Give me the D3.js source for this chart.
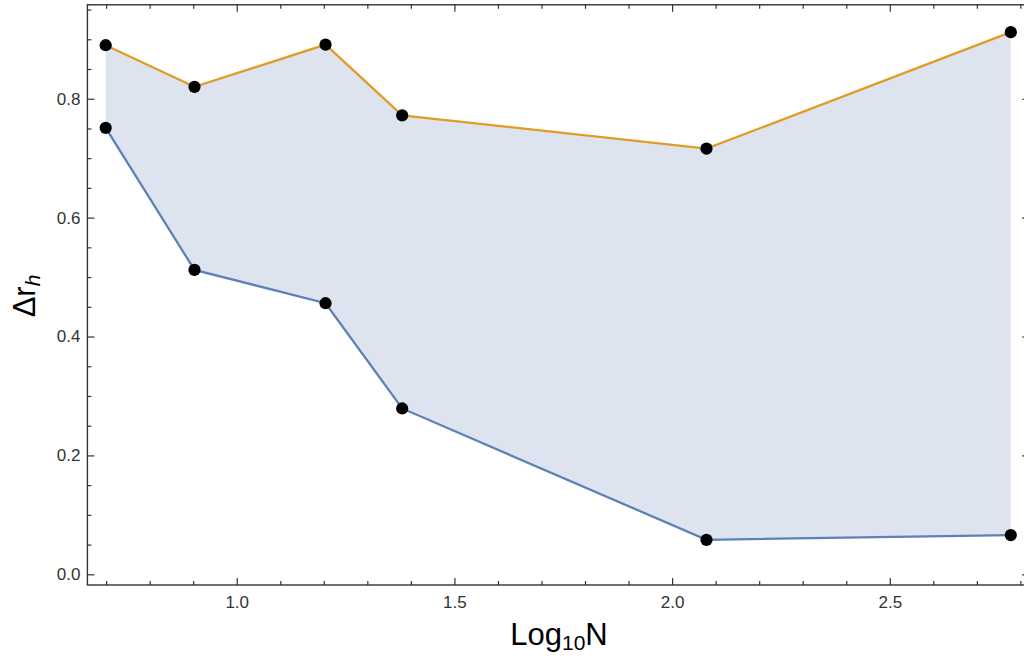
<!DOCTYPE html>
<html>
<head>
<meta charset="utf-8">
<script src="https://cdn.jsdelivr.net/npm/d3@7"></script>
<style>
  body { margin: 0; background: #fff; }
  svg text { font-family: "Liberation Sans", Arial, sans-serif; }
</style>
</head>
<body>
<script>
// data
var logN = [0.699, 0.903, 1.204, 1.380, 2.079, 2.778]
var upperVals = [0.890, 0.820, 0.891, 0.772, 0.716, 0.912]
var lowerVals = [0.751, 0.512, 0.456, 0.279, 0.058, 0.066]
var xMajor = [1.0, 1.5, 2.0, 2.5]
var yMajor = [0.0, 0.2, 0.4, 0.6, 0.8]

var width = 1024, height = 662

var svg = d3.select("body").append("svg")
  .attr("width", width)
  .attr("height", height)

var x = d3.scaleLinear().domain([0.657, 2.82]).range([87.4, 1029.1])
var y = d3.scaleLinear().domain([-0.018, 0.958]).range([585, 4.8])

var xMinor = d3.range(0.7, 2.85, 0.1).filter(function(v){
  return Math.abs(v*2 - Math.round(v*2)) > 0.01
})
var yMinor = d3.range(0.05, 0.96, 0.05).filter(function(v){
  return Math.abs(v*5 - Math.round(v*5)) > 0.01
})

var pts = logN.map(function(d,i){
  return {x: d, hi: upperVals[i], lo: lowerVals[i]}
})

svg.append("clipPath").attr("id","clip")
  .append("rect")
  .attr("x", x(0.657)).attr("y", y(0.958))
  .attr("width", x(2.82)-x(0.657)).attr("height", y(-0.018)-y(0.958))

var plot = svg.append("g").attr("clip-path","url(#clip)")

// filling between the two curves
plot.append("path")
  .datum(pts)
  .attr("fill", "#dde3ef")
  .attr("d", d3.area()
    .x(function(d){ return x(d.x) })
    .y0(function(d){ return y(d.lo) })
    .y1(function(d){ return y(d.hi) }))

plot.append("path")
  .datum(pts)
  .attr("fill", "none")
  .attr("stroke", "#5e81b5")
  .attr("stroke-width", 2.3)
  .attr("d", d3.line().x(function(d){ return x(d.x) }).y(function(d){ return y(d.lo) }))

plot.append("path")
  .datum(pts)
  .attr("fill", "none")
  .attr("stroke", "#e19c24")
  .attr("stroke-width", 2.3)
  .attr("d", d3.line().x(function(d){ return x(d.x) }).y(function(d){ return y(d.hi) }))

var dots = []
pts.forEach(function(d){
  dots.push({x: d.x, v: d.hi})
  dots.push({x: d.x, v: d.lo})
})
plot.selectAll("circle.pt")
  .data(dots)
  .enter()
  .append("circle")
  .attr("class","pt")
  .attr("cx", function(d){ return x(d.x) })
  .attr("cy", function(d){ return y(d.v) })
  .attr("r", 6.1)
  .attr("fill", "#000")

// frame axes, ticks pointing inward
var x0 = x(0.657), x1 = x(2.82), y0 = y(-0.018), y1 = y(0.958)

var styleAxis = function(g){
  g.attr("font-size", 17)
  g.select(".domain").remove()
  g.selectAll(".tick line").attr("stroke", "#333").attr("stroke-width", 1.2)
  g.selectAll(".tick text").attr("fill", "#333").style("font-size", "17px")
}

svg.append("g").attr("transform","translate(0,"+y0+")")
  .call(d3.axisBottom(x).tickValues(xMajor).tickSizeInner(-7).tickPadding(11).tickFormat(d3.format(".1f")))
  .call(styleAxis)
svg.append("g").attr("transform","translate(0,"+y0+")")
  .call(d3.axisBottom(x).tickValues(xMinor).tickSizeInner(-4).tickFormat(""))
  .call(styleAxis)
svg.append("g").attr("transform","translate(0,"+y1+")")
  .call(d3.axisTop(x).tickValues(xMajor).tickSizeInner(-7).tickFormat(""))
  .call(styleAxis)
svg.append("g").attr("transform","translate(0,"+y1+")")
  .call(d3.axisTop(x).tickValues(xMinor).tickSizeInner(-4).tickFormat(""))
  .call(styleAxis)

svg.append("g").attr("transform","translate("+x0+",0)")
  .call(d3.axisLeft(y).tickValues(yMajor).tickSizeInner(-7).tickPadding(7).tickFormat(d3.format(".1f")))
  .call(styleAxis)
svg.append("g").attr("transform","translate("+x0+",0)")
  .call(d3.axisLeft(y).tickValues(yMinor).tickSizeInner(-4).tickFormat(""))
  .call(styleAxis)
svg.append("g").attr("transform","translate("+x1+",0)")
  .call(d3.axisRight(y).tickValues(yMajor).tickSizeInner(-7).tickFormat(""))
  .call(styleAxis)
svg.append("g").attr("transform","translate("+x1+",0)")
  .call(d3.axisRight(y).tickValues(yMinor).tickSizeInner(-4).tickFormat(""))
  .call(styleAxis)

svg.append("rect")
  .attr("x", x0).attr("y", y1)
  .attr("width", x1-x0).attr("height", y0-y1)
  .attr("fill", "none")
  .attr("stroke", "#333")
  .attr("stroke-width", 1.4)

// axis labels
var xl = svg.append("text")
  .attr("x", 559).attr("y", 645)
  .attr("text-anchor", "middle")
  .attr("font-size", 31)
  .attr("fill", "#000")
xl.append("tspan").text("Log")
xl.append("tspan").attr("font-size", 21).attr("dy", 5).text("10")
xl.append("tspan").attr("dy", -5).text("N")

var yl = svg.append("text")
  .attr("transform", "translate(35,296) rotate(-90)")
  .attr("text-anchor", "middle")
  .attr("font-size", 31)
  .attr("fill", "#000")
yl.append("tspan").text("Δr")
yl.append("tspan").attr("font-size", 21).attr("font-style", "italic").attr("dy", 5).text("h")
</script>
</body>
</html>
